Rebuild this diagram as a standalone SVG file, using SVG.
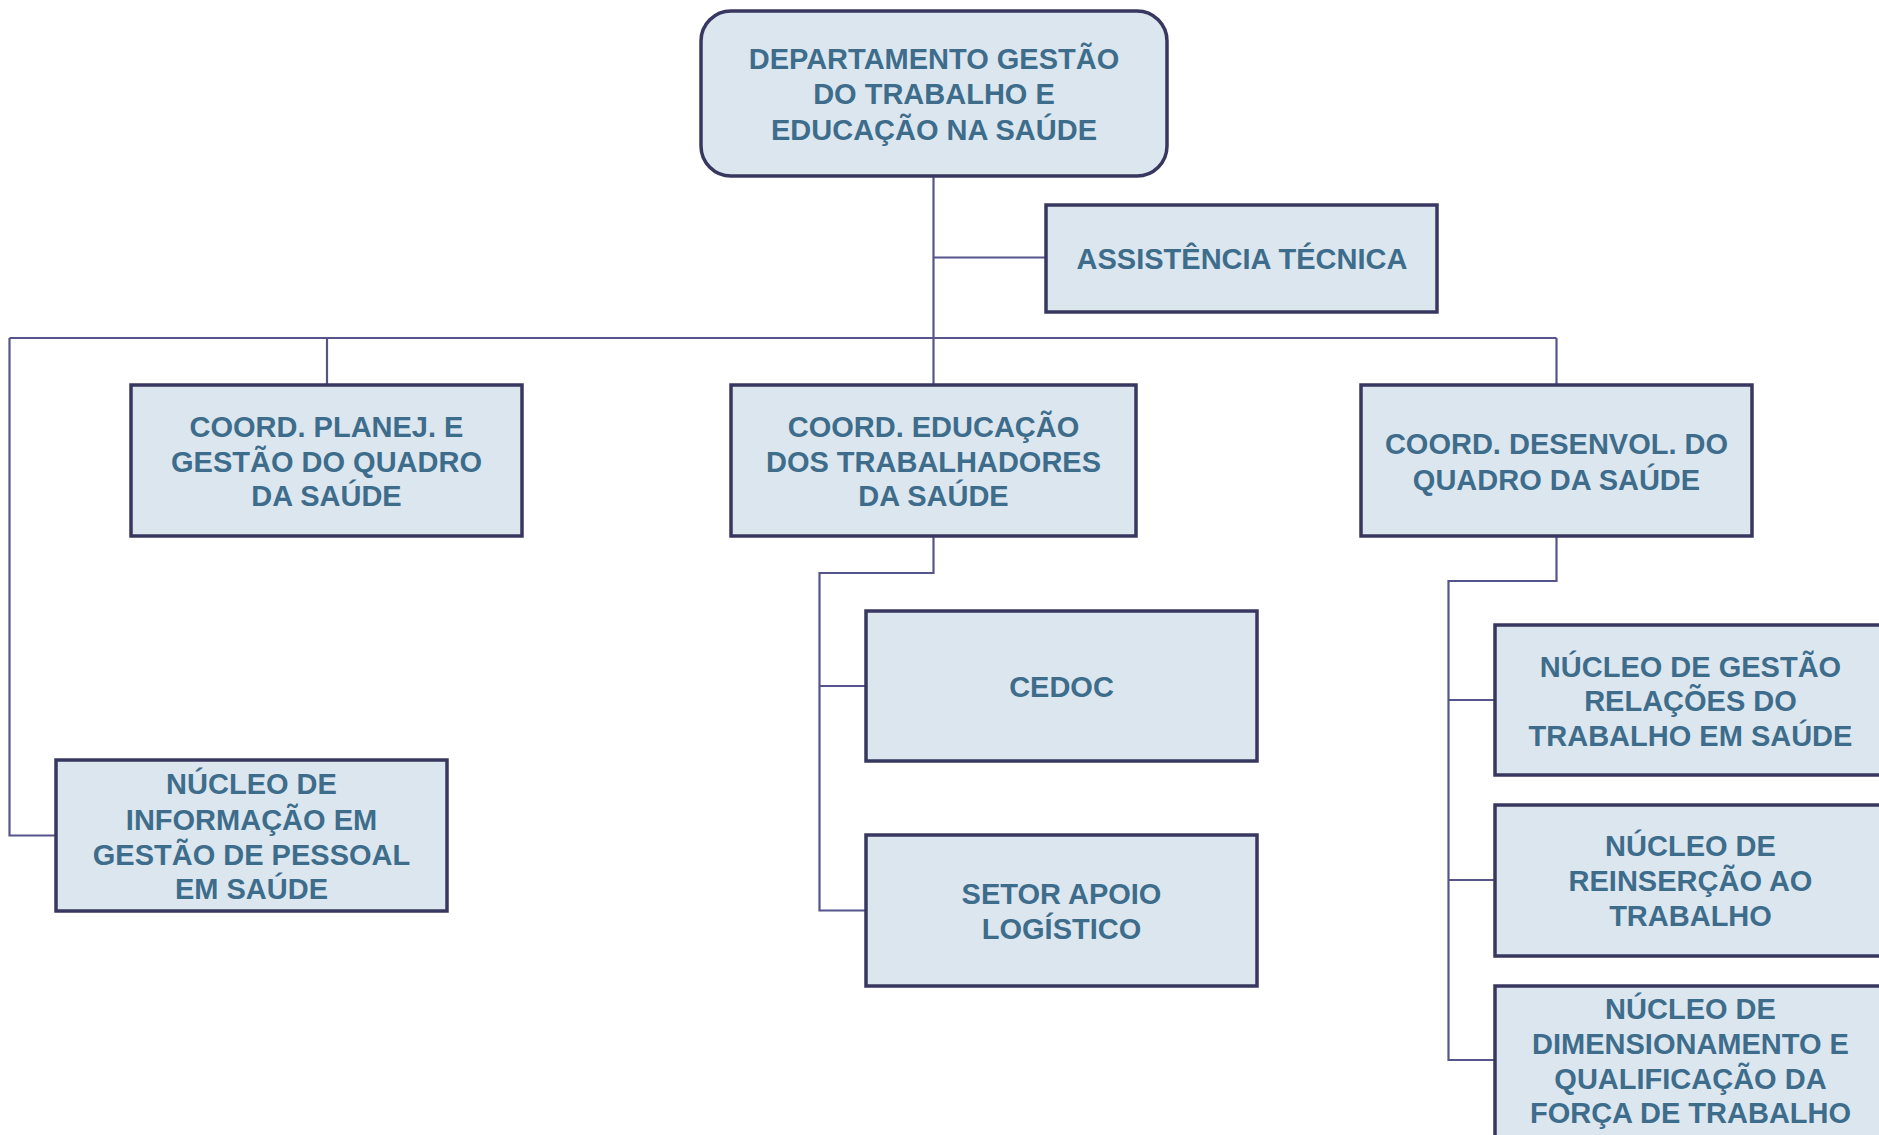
<svg xmlns="http://www.w3.org/2000/svg" width="1879" height="1135" viewBox="0 0 1879 1135">
<style>
.box{fill:#DCE6EF;stroke:#38375F;stroke-width:3.5}
.t{font-family:"Liberation Sans",Arial,sans-serif;font-weight:bold;font-size:29px;fill:#3E6D8C;text-anchor:middle}
.c{fill:none;stroke:#55558C;stroke-width:2.2}
</style>
<rect width="1879" height="1135" fill="#FFFFFF"/>
<g id="connectors">
<path class="c" d="M933.5 176 V385"/>
<path class="c" d="M933.5 257.5 H1046"/>
<path class="c" d="M9.5 338 H1556.5"/>
<path class="c" d="M327 338 V385"/>
<path class="c" d="M1556.5 338 V385"/>
<path class="c" d="M9.5 338 V835.5 H56"/>
<path class="c" d="M933.5 536 V573 H819.5 V910.5 H866"/>
<path class="c" d="M819.5 686 H866"/>
<path class="c" d="M1556.5 536 V581 H1448.5 V1060 H1495"/>
<path class="c" d="M1448.5 700 H1495"/>
<path class="c" d="M1448.5 880 H1495"/>
</g>
<g id="n-departamento">
<rect class="box" x="701" y="11" width="466" height="165" rx="30" ry="30"/>
<text class="t" x="934" y="69">DEPARTAMENTO GESTÃO</text>
<text class="t" x="934" y="104">DO TRABALHO E</text>
<text class="t" x="934" y="140">EDUCAÇÃO NA SAÚDE</text>
</g>
<g id="n-assistencia">
<rect class="box" x="1046" y="205" width="391" height="107"/>
<text class="t" x="1242" y="269">ASSISTÊNCIA TÉCNICA</text>
</g>
<g id="n-coord-planej">
<rect class="box" x="131" y="385" width="391" height="151"/>
<text class="t" x="326.5" y="437">COORD. PLANEJ. E</text>
<text class="t" x="326.5" y="472">GESTÃO DO QUADRO</text>
<text class="t" x="326.5" y="506">DA SAÚDE</text>
</g>
<g id="n-coord-educacao">
<rect class="box" x="731" y="385" width="405" height="151"/>
<text class="t" x="933.5" y="437">COORD. EDUCAÇÃO</text>
<text class="t" x="933.5" y="472">DOS TRABALHADORES</text>
<text class="t" x="933.5" y="506">DA SAÚDE</text>
</g>
<g id="n-coord-desenvol">
<rect class="box" x="1361" y="385" width="391" height="151"/>
<text class="t" x="1556.5" y="454">COORD. DESENVOL. DO</text>
<text class="t" x="1556.5" y="490">QUADRO DA SAÚDE</text>
</g>
<g id="n-nucleo-informacao">
<rect class="box" x="56" y="760" width="391" height="151"/>
<text class="t" x="251.5" y="794">NÚCLEO DE</text>
<text class="t" x="251.5" y="830">INFORMAÇÃO EM</text>
<text class="t" x="251.5" y="865">GESTÃO DE PESSOAL</text>
<text class="t" x="251.5" y="899">EM SAÚDE</text>
</g>
<g id="n-cedoc">
<rect class="box" x="866" y="611" width="391" height="150"/>
<text class="t" x="1061.5" y="697">CEDOC</text>
</g>
<g id="n-setor">
<rect class="box" x="866" y="835" width="391" height="151"/>
<text class="t" x="1061.5" y="904">SETOR APOIO</text>
<text class="t" x="1061.5" y="939">LOGÍSTICO</text>
</g>
<g id="n-nucleo-gestao">
<rect class="box" x="1495" y="625" width="391" height="150"/>
<text class="t" x="1690.5" y="677">NÚCLEO DE GESTÃO</text>
<text class="t" x="1690.5" y="711">RELAÇÕES DO</text>
<text class="t" x="1690.5" y="746">TRABALHO EM SAÚDE</text>
</g>
<g id="n-nucleo-reinsercao">
<rect class="box" x="1495" y="805" width="391" height="151"/>
<text class="t" x="1690.5" y="856">NÚCLEO DE</text>
<text class="t" x="1690.5" y="891">REINSERÇÃO AO</text>
<text class="t" x="1690.5" y="926">TRABALHO</text>
</g>
<g id="n-nucleo-dimensionamento">
<rect class="box" x="1495" y="986" width="391" height="151"/>
<text class="t" x="1690.5" y="1019">NÚCLEO DE</text>
<text class="t" x="1690.5" y="1054">DIMENSIONAMENTO E</text>
<text class="t" x="1690.5" y="1089">QUALIFICAÇÃO DA</text>
<text class="t" x="1690.5" y="1123">FORÇA DE TRABALHO</text>
</g>
</svg>
